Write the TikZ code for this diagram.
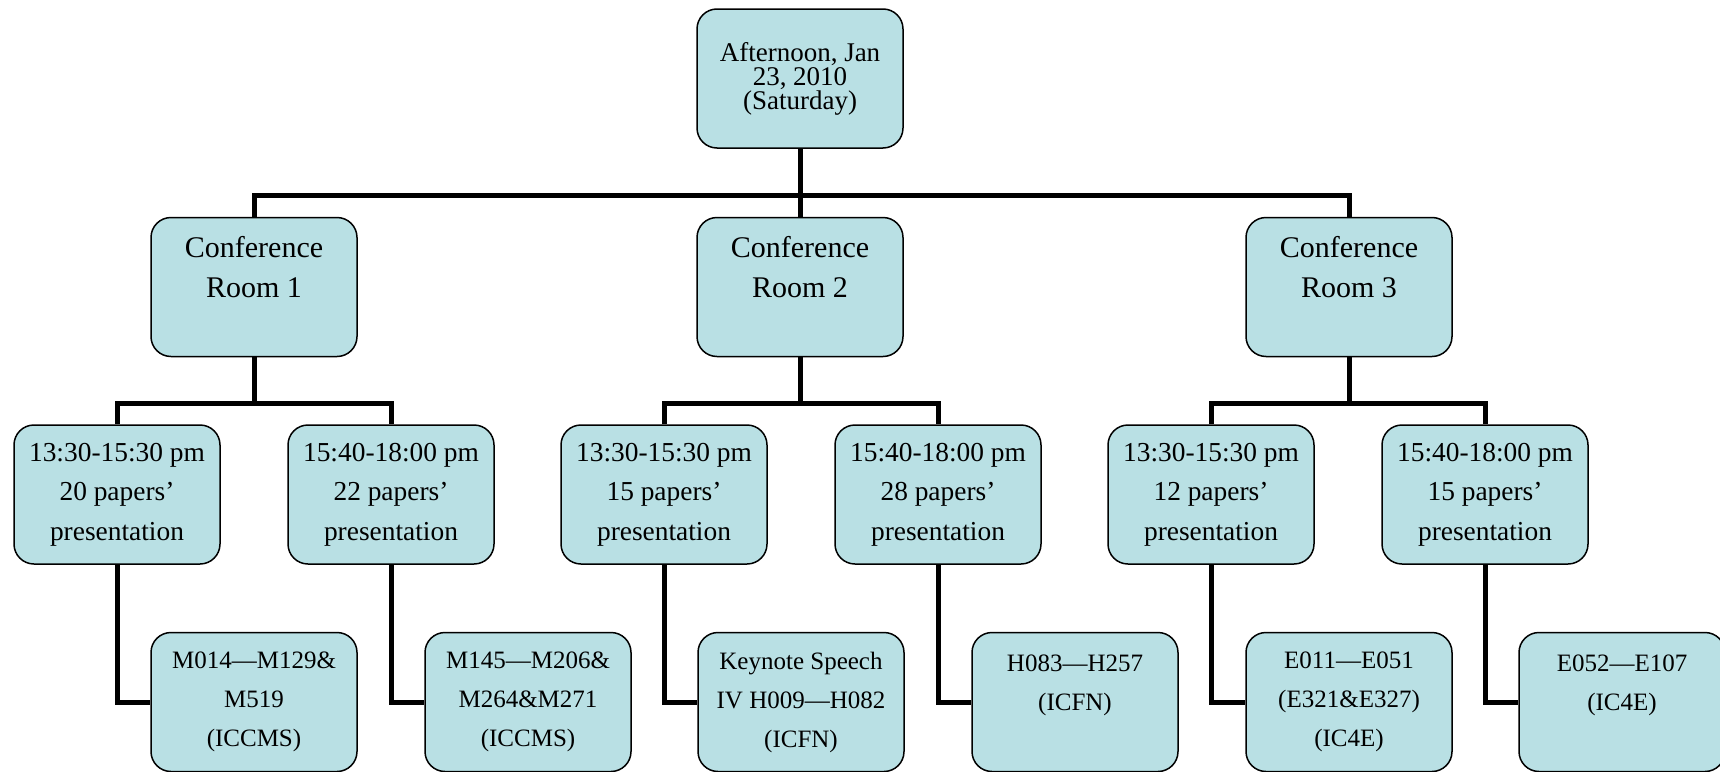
\documentclass[tikz,border=0pt]{standalone}
\usepackage{fontspec}
\setmainfont{Liberation Serif}
\definecolor{boxfill}{RGB}{185,224,228}
\tikzset{
  box/.style={draw=black, line width=1.5pt, fill=boxfill, rounded corners=20pt,
    minimum width=206pt, minimum height=139pt, inner sep=0pt, align=center, text=black},
  topbox/.style={box, font=\fontsize{27}{24}\selectfont},
  roombox/.style={box, font=\fontsize{30}{40}\selectfont},
  timebox/.style={box, font=\fontsize{27.4}{39.5}\selectfont},
  leafbox/.style={box, font=\fontsize{25}{39}\selectfont},
  conn/.style={line width=5pt, line join=miter, draw=black}
}
\begin{document}
\begin{tikzpicture}[x=1pt,y=-1pt]
\useasboundingbox (0,0) rectangle (1720,771);
% nodes
\node[topbox] (top) at (800,78.5) {Afternoon, Jan\\23, 2010\\(Saturday)};
\node[roombox] (r1) at (254,287) {Conference\\Room 1\\\phantom{X}};
\node[roombox] (r2) at (800,287) {Conference\\Room 2\\\phantom{X}};
\node[roombox] (r3) at (1349,287) {Conference\\Room 3\\\phantom{X}};
\node[timebox] (t11) at (117,494.5) {13:30-15:30 pm\\20 papers’\\presentation};
\node[timebox] (t12) at (391,494.5) {15:40-18:00 pm\\22 papers’\\presentation};
\node[timebox] (t21) at (664,494.5) {13:30-15:30 pm\\15 papers’\\presentation};
\node[timebox] (t22) at (938,494.5) {15:40-18:00 pm\\28 papers’\\presentation};
\node[timebox] (t31) at (1211,494.5) {13:30-15:30 pm\\12 papers’\\presentation};
\node[timebox] (t32) at (1485,494.5) {15:40-18:00 pm\\15 papers’\\presentation};
\node[leafbox] (l11) at (254,702) {M014—M129\&\\M519\\(ICCMS)};
\node[leafbox] (l12) at (528,702) {M145—M206\&\\M264\&M271\\(ICCMS)};
\node[leafbox] (l21) at (801,702) {Keynote Speech\\IV H009—H082\\(ICFN)};
\node[leafbox] (l22) at (1075,702) {H083—H257\\(ICFN)\\\phantom{X}};
\node[leafbox] (l31) at (1349,702) {E011—E051\\(E321\&E327)\\(IC4E)};
\node[leafbox] (l32) at (1622,702) {E052—E107\\(IC4E)\\\phantom{X}};
% junction coordinates
\coordinate (b0) at (800,195);
\coordinate (c1) at (254,403);
\coordinate (c2) at (800,403);
\coordinate (c3) at (1349,403);
% connectors
\draw[conn] (top.south) -- (b0);
\draw[conn] (r1.north) |- (b0) -| (r3.north);
\draw[conn] (b0) -- (r2.north);
\draw[conn] (r1.south) -- (c1);
\draw[conn] (t11.north) |- (c1) -| (t12.north);
\draw[conn] (r2.south) -- (c2);
\draw[conn] (t21.north) |- (c2) -| (t22.north);
\draw[conn] (r3.south) -- (c3);
\draw[conn] (t31.north) |- (c3) -| (t32.north);
\draw[conn] (t11.south) |- (l11.west);
\draw[conn] (t12.south) |- (l12.west);
\draw[conn] (t21.south) |- (l21.west);
\draw[conn] (t22.south) |- (l22.west);
\draw[conn] (t31.south) |- (l31.west);
\draw[conn] (t32.south) |- (l32.west);
\end{tikzpicture}
\end{document}
